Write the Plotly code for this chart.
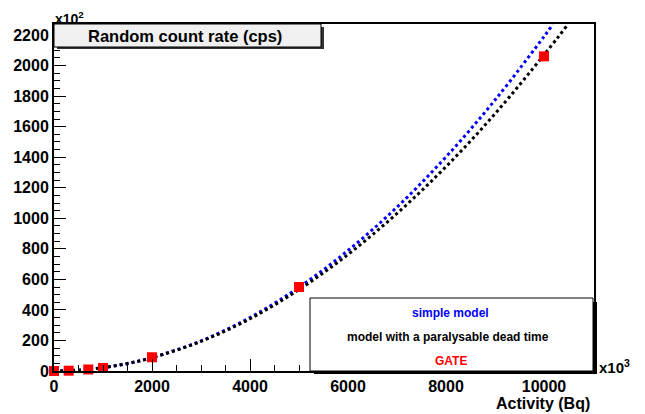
import plotly.graph_objects as go

# GATE simulated points (activity in x10^3 Bq, rate in x10^2 cps)
gate_x = [0, 300, 700, 1000, 2000, 5000, 10000]
gate_y = [0, 2, 10, 20, 90, 550, 2060]

# simple model curve
simple_x = [0, 500, 1000, 1500, 2000, 3000, 4000, 5000, 6000, 7000, 8000, 9000, 10000, 10180]
simple_y = [0, 5.5, 22, 49, 88, 197, 350, 548, 789, 1073, 1402, 1774, 2190, 2270]

# model with paralysable dead time
para_x = [0, 500, 1000, 1500, 2000, 3000, 4000, 5000, 6000, 7000, 8000, 9000, 10000, 10490]
para_y = [0, 5.5, 22, 49, 87, 194, 342, 533, 763, 1032, 1338, 1684, 2070, 2270]

x_ticks = [0, 2000, 4000, 6000, 8000, 10000]
y_ticks = [0, 200, 400, 600, 800, 1000, 1200, 1400, 1600, 1800, 2000, 2200]

OFF = 8  # page body margin
W, H = 645 - OFF, 414 - OFF
# plot area in screenshot pixels
L, R, T, B = 54, 594, 24, 371

def px(x):
    return (x - L) / (R - L)

def py(y):
    return (B - y) / (B - T)

FONT = "Liberation Sans"

fig = go.Figure()
fig.add_trace(go.Scatter(x=simple_x, y=simple_y, mode="lines", line=dict(color="#0000ff", width=3, dash="dot", shape="spline"), showlegend=False))
fig.add_trace(go.Scatter(x=para_x, y=para_y, mode="lines", line=dict(color="#000000", width=3, dash="dot", shape="spline"), showlegend=False))
fig.add_trace(go.Scatter(x=gate_x, y=gate_y, mode="markers", marker=dict(color="#ff0000", size=10, symbol="square"), showlegend=False, cliponaxis=False))

fig.update_layout(
    width=W, height=H,
    margin=dict(l=L - OFF, r=645 - R, t=T - OFF, b=414 - B, autoexpand=False),
    paper_bgcolor="white", plot_bgcolor="white",
    font=dict(family=FONT, size=15, color="black", weight="bold"),
    xaxis=dict(range=[0, 11020], tickvals=x_ticks, ticktext=[str(v) for v in x_ticks],
               ticks="inside", ticklen=12, tickwidth=1, tickcolor="black",
               minor=dict(dtick=500, ticks="inside", ticklen=6, tickcolor="black"),
               showgrid=False, zeroline=False, showline=True, linecolor="black", linewidth=2,
               mirror=True, automargin=False, tickfont=dict(size=16, weight="bold")),
    yaxis=dict(range=[0, 2272], tickvals=y_ticks, ticktext=[str(v) for v in y_ticks],
               ticks="inside", ticklen=12, tickwidth=1, tickcolor="black",
               minor=dict(dtick=50, ticks="inside", ticklen=6, tickcolor="black"),
               showgrid=False, zeroline=False, showline=True, linecolor="black", linewidth=2,
               mirror=True, automargin=False, tickfont=dict(size=16, weight="bold")),
)

shapes = []
# title box shadow + box
shapes.append(dict(type="rect", xref="paper", yref="paper", x0=px(57), x1=px(324), y0=py(49), y1=py(27), fillcolor="#333333", line=dict(width=0)))
shapes.append(dict(type="rect", xref="paper", yref="paper", x0=px(54), x1=px(321), y0=py(47), y1=py(24), fillcolor="#f0f0f0", line=dict(color="black", width=1)))
# legend box shadow + box
shapes.append(dict(type="rect", xref="paper", yref="paper", x0=px(314), x1=px(597), y0=py(374), y1=py(302), fillcolor="black", line=dict(width=0)))
shapes.append(dict(type="rect", xref="paper", yref="paper", x0=px(310), x1=px(593), y0=py(371), y1=py(298), fillcolor="white", line=dict(color="black", width=1)))
fig.update_layout(shapes=shapes)

ann = []
ann.append(dict(text="Random count rate (cps)", x=px(185), y=py(36), xref="paper", yref="paper", showarrow=False, font=dict(size=16.5, weight="bold"), xanchor="center", yanchor="middle"))
ann.append(dict(text="simple model", x=px(450), y=py(313), xref="paper", yref="paper", showarrow=False, font=dict(size=12, color="#0000ff", weight="bold"), xanchor="center", yanchor="middle"))
ann.append(dict(text="model with a paralysable dead time", x=px(448), y=py(337), xref="paper", yref="paper", showarrow=False, font=dict(size=12, color="black", weight="bold"), xanchor="center", yanchor="middle"))
ann.append(dict(text="GATE", x=px(451), y=py(361), xref="paper", yref="paper", showarrow=False, font=dict(size=12, color="#ff0000", weight="bold"), xanchor="center", yanchor="middle"))
ann.append(dict(text="x10<sup>2</sup>", x=px(54), y=py(28), xref="paper", yref="paper", showarrow=False, font=dict(size=14, weight="bold"), xanchor="left", yanchor="bottom", borderpad=0))
ann.append(dict(text="x10<sup>3</sup>", x=px(597), y=py(366), xref="paper", yref="paper", showarrow=False, font=dict(size=15, weight="bold"), xanchor="left", yanchor="middle"))
ann.append(dict(text="Activity (Bq)", x=px(591), y=py(403), xref="paper", yref="paper", showarrow=False, font=dict(size=16, weight="bold"), xanchor="right", yanchor="middle", borderpad=0))
fig.update_layout(annotations=ann)

fig.write_html("out.html")
